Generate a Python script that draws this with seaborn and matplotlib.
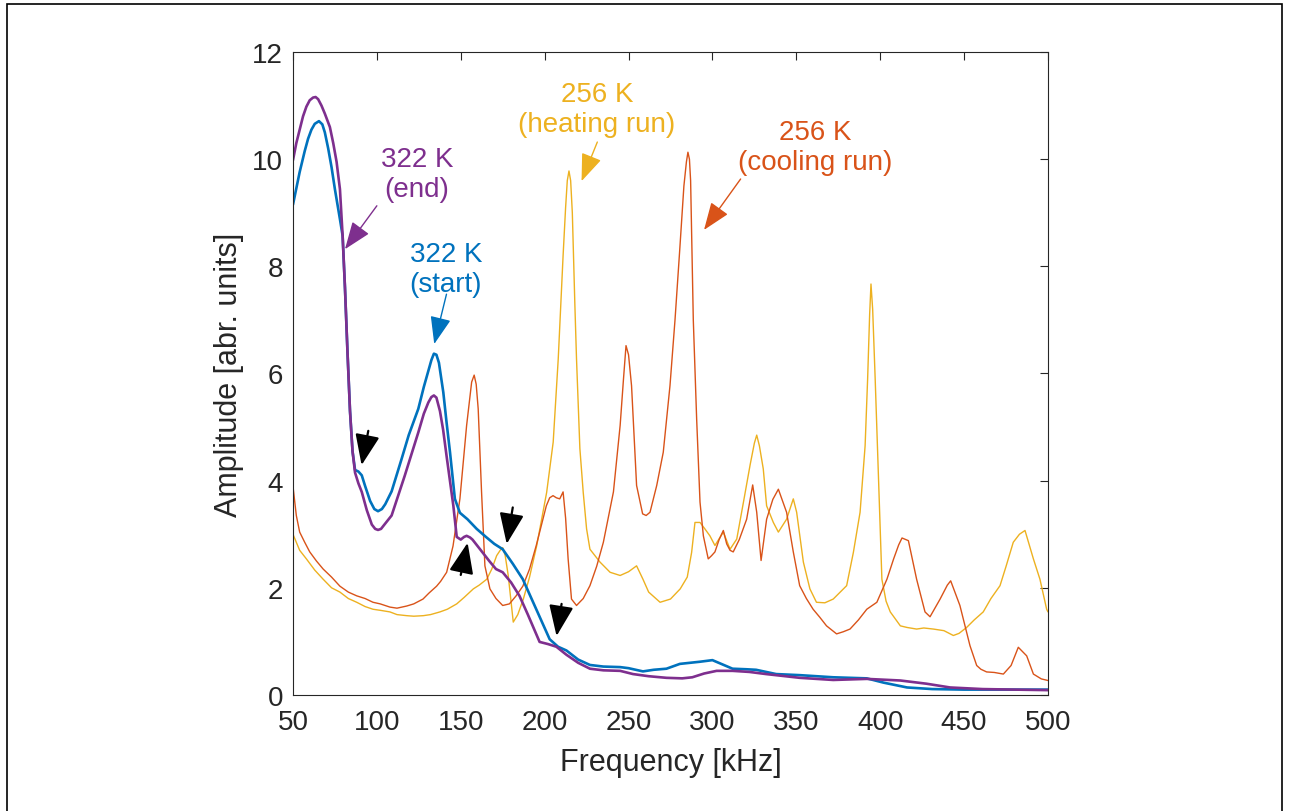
import matplotlib
matplotlib.use("Agg")
import matplotlib.pyplot as plt
import matplotlib.patches as mpatches
import seaborn as sns

# 322 K (start) - blue
f_start = [50, 54, 57, 59, 61, 63, 65.5, 67.5, 69, 71, 73, 75, 78, 79.6, 81, 82.5, 84, 85.5, 87,
           89, 91, 93, 96, 98.5, 100.7, 103, 105, 108.8, 114.7, 119, 124.7, 128, 130.7, 132.5,
           134, 135.5, 137, 139.6, 141.5, 143.6, 146.5, 149.5, 154, 159.5, 165, 170, 175, 181,
           187, 195, 203, 208, 213, 220, 227, 235, 245, 250, 258.6, 265, 272.6, 280.6, 292.5,
           300, 306, 312, 320, 326, 338, 352, 372, 392, 402, 416, 431, 450, 475, 500]
a_start = [9.15, 9.76, 10.15, 10.38, 10.55, 10.66, 10.71, 10.65, 10.5, 10.2, 9.85, 9.44, 8.88,
           8.57, 7.6, 6.4, 5.3, 4.55, 4.2, 4.17, 4.1, 3.9, 3.62, 3.47, 3.43, 3.47, 3.56, 3.8,
           4.4, 4.85, 5.34, 5.75, 6.05, 6.25, 6.37, 6.35, 6.2, 5.65, 5.1, 4.53, 3.66, 3.4, 3.28,
           3.1, 2.95, 2.82, 2.72, 2.45, 2.16, 1.6, 1.04, 0.9, 0.83, 0.66, 0.56, 0.53, 0.52, 0.5,
           0.44, 0.47, 0.49, 0.58, 0.62, 0.65, 0.57, 0.49, 0.48, 0.47, 0.39, 0.37, 0.33, 0.31,
           0.23, 0.14, 0.11, 0.1, 0.1, 0.1]

# 322 K (end) - purple
f_end = [50, 52, 54, 56, 58, 60, 62, 63.5, 65, 67, 69, 72, 74, 76, 78, 79.6, 81, 82.5, 84, 85.5,
         87, 89, 91, 94, 97, 99, 100.7, 102.5, 104, 108.8, 116.6, 124.7, 128, 130.7, 132.5,
         134, 135.5, 137.6, 139.5, 141.6, 145.6, 147.6, 150, 152, 153.5, 155.5, 157, 162, 167,
         171, 175, 180, 185, 190, 197, 202, 207, 213, 220, 227, 235, 245, 252.7, 262, 272.6,
         282, 288, 295, 302.5, 312, 322, 332, 352, 372, 392, 412, 427.6, 441.6, 461, 480, 500]
a_end = [9.98, 10.3, 10.55, 10.8, 10.98, 11.1, 11.15, 11.16, 11.12, 11.0, 10.85, 10.6, 10.3,
         9.95, 9.44, 8.57, 7.6, 6.4, 5.3, 4.55, 4.15, 3.95, 3.79, 3.45, 3.18, 3.1, 3.08, 3.1,
         3.16, 3.35, 4.09, 4.9, 5.25, 5.46, 5.56, 5.59, 5.55, 5.3, 4.95, 4.45, 3.53, 2.95, 2.9,
         2.95, 2.97, 2.94, 2.9, 2.7, 2.5, 2.35, 2.29, 2.1, 1.85, 1.5, 0.99, 0.95, 0.9, 0.75,
         0.6, 0.49, 0.46, 0.45, 0.39, 0.35, 0.32, 0.31, 0.33, 0.4, 0.45, 0.45, 0.43, 0.39, 0.32,
         0.28, 0.3, 0.27, 0.21, 0.14, 0.11, 0.1, 0.09]

# 256 K (cooling run) - orange
f_cool = [50, 52, 54, 57, 60, 64, 68, 73, 78, 83, 88, 93, 97.7, 102, 107.8, 112, 117.8, 122,
          127.5, 131, 135.6, 138, 141.6, 145.4, 149.5, 153.5, 156.5, 158, 159.2, 160.4, 162.4,
          164.4, 167.4, 171, 175, 179, 183, 187, 191, 195, 201, 203, 205, 207, 209, 211, 212.5,
          214, 216, 219, 223, 227, 231, 235, 241, 245, 247, 248.5, 250, 251.8, 254.8, 258.4,
          260.5, 262.8, 266.8, 270.7, 274.7, 277.7, 280.5, 283, 284.5, 285.4, 286.3, 287, 288.6,
          290.6, 292.6, 294.6, 297.5, 299.5, 301.5, 304, 306.5, 308.5, 310.5, 312.4, 316, 320.4,
          324, 326.4, 329, 332.3, 336, 339.3, 344.2, 348.2, 352, 356, 360, 364, 368, 374, 378,
          382, 387, 392, 398, 404, 408, 411, 413, 416.8, 421.7, 426.7, 429.7, 435.7, 440, 442,
          447.5, 453.5, 457.5, 460, 463.4, 468, 473.4, 478, 482.3, 487.3, 491.3, 496, 500]
a_cool = [3.9, 3.35, 3.04, 2.85, 2.67, 2.5, 2.35, 2.2, 2.03, 1.92, 1.85, 1.8, 1.73, 1.7, 1.64,
          1.62, 1.66, 1.7, 1.79, 1.9, 2.03, 2.12, 2.29, 2.78, 3.66, 5.03, 5.84, 5.97, 5.8, 5.34,
          3.79, 2.41, 1.98, 1.8, 1.67, 1.7, 1.85, 2.03, 2.35, 2.79, 3.53, 3.68, 3.72, 3.68,
          3.66, 3.79, 3.3, 2.54, 1.79, 1.67, 1.8, 2.04, 2.4, 2.85, 3.79, 5.03, 5.9, 6.52, 6.35,
          5.77, 3.91, 3.38, 3.35, 3.41, 3.91, 4.53, 5.77, 7.0, 8.3, 9.5, 9.95, 10.13, 10.0, 9.6,
          7.0, 5.15, 3.6, 2.97, 2.54, 2.6, 2.67, 2.9, 3.07, 2.82, 2.7, 2.67, 2.9, 3.28, 3.92,
          3.41, 2.51, 3.28, 3.65, 3.84, 3.41, 2.67, 2.04, 1.8, 1.6, 1.45, 1.29, 1.14, 1.18, 1.23,
          1.4, 1.6, 1.73, 2.16, 2.54, 2.8, 2.93, 2.88, 2.16, 1.55, 1.46, 1.79, 2.05, 2.13, 1.67,
          0.92, 0.55, 0.48, 0.43, 0.42, 0.39, 0.55, 0.89, 0.73, 0.39, 0.3, 0.27]

# 256 K (heating run) - yellow
f_heat = [50, 54, 58, 63, 68, 73, 78, 83, 88, 93, 97.7, 102, 107.8, 112, 117.8, 122, 127.7, 132,
          137.6, 142, 147.6, 152, 157.5, 161, 165.5, 168.5, 171.4, 173.5, 175, 176.5, 178.3,
          181.3, 184, 187.3, 191, 195.3, 201.2, 205.1, 208.1, 211, 212.5, 213.5, 214.5, 215.5,
          216.5, 218, 219, 221, 223, 225, 227, 233, 239, 245, 250, 254.8, 258.6, 262, 268.8,
          275, 280.8, 285, 287.6, 289.6, 292.6, 295.5, 298.5, 301.5, 306.5, 310.5, 314.5, 318.5,
          322.5, 325, 326.4, 328, 330.3, 332.3, 336.3, 339.3, 344.2, 348.2, 350.2, 354.2, 358.1,
          362, 367, 372, 380, 384, 388, 391, 392.5, 393.7, 394.5, 395.5, 397, 399, 401, 403.5,
          406, 412, 416, 421.7, 426, 431.7, 438, 443.6, 447, 451.5, 456, 461.4, 466, 471.4, 475,
          479.3, 483, 486.3, 491.3, 495.2, 499.2, 500]
a_heat = [3.0, 2.7, 2.54, 2.33, 2.16, 2.0, 1.92, 1.8, 1.73, 1.65, 1.6, 1.58, 1.55, 1.5, 1.48,
          1.47, 1.48, 1.5, 1.55, 1.6, 1.7, 1.82, 1.98, 2.05, 2.16, 2.35, 2.6, 2.7, 2.75, 2.6,
          2.23, 1.36, 1.5, 1.79, 2.2, 2.79, 3.78, 4.72, 6.27, 8.2, 9.1, 9.6, 9.78, 9.6, 9.0, 7.3,
          6.27, 4.6, 3.78, 3.1, 2.72, 2.48, 2.29, 2.23, 2.3, 2.41, 2.16, 1.92, 1.73, 1.79, 1.98,
          2.2, 2.66, 3.22, 3.22, 3.1, 2.97, 2.79, 3.04, 2.72, 2.91, 3.6, 4.3, 4.7, 4.85, 4.65,
          4.22, 3.53, 3.22, 3.04, 3.28, 3.66, 3.41, 2.48, 1.98, 1.73, 1.72, 1.79, 2.04, 2.66,
          3.41, 4.65, 5.9, 7.1, 7.67, 7.2, 5.9, 4.03, 2.16, 1.75, 1.55, 1.29, 1.26, 1.23, 1.25,
          1.23, 1.2, 1.11, 1.15, 1.26, 1.4, 1.55, 1.8, 2.04, 2.4, 2.85, 3.0, 3.07, 2.54, 2.16,
          1.6, 1.55]

x_ticks = [50, 100, 150, 200, 250, 300, 350, 400, 450, 500]
y_ticks = [0, 2, 4, 6, 8, 10, 12]

BLUE = "#0072BD"
ORANGE = "#D95319"
YELLOW = "#EDB120"
PURPLE = "#7E2F8E"
DARK = "#262626"

sns.set_style("white")
plt.rcParams['font.family'] = ['Liberation Sans', 'DejaVu Sans']

fig = plt.figure(figsize=(12.9, 8.12), dpi=100)
ax = fig.add_axes([0.2271, 0.1429, 0.5853, 0.7918])

line_kw = dict(ax=ax, sort=False, solid_joinstyle='round', solid_capstyle='round')
sns.lineplot(x=f_heat, y=a_heat, color=YELLOW, lw=1.0, **line_kw)
sns.lineplot(x=f_cool, y=a_cool, color=ORANGE, lw=1.0, **line_kw)
sns.lineplot(x=f_start, y=a_start, color=BLUE, lw=1.9, **line_kw)
sns.lineplot(x=f_end, y=a_end, color=PURPLE, lw=1.9, **line_kw)

ax.set_xlim(50, 500)
ax.set_ylim(0, 12)
ax.set_xticks(x_ticks)
ax.set_yticks(y_ticks)
ax.tick_params(direction='in', length=6, width=0.8, colors=DARK, labelsize=20,
               top=True, right=True)
ax.tick_params(axis='x', pad=10)
ax.tick_params(axis='y', pad=7)
for sp in ax.spines.values():
    sp.set_color(DARK)
    sp.set_linewidth(0.8)
ax.set_xlabel("Frequency [kHz]", fontsize=22, color=DARK, labelpad=9)
ax.set_ylabel("Amplitude [abr. units]", fontsize=22, color=DARK, labelpad=6)


def label(txt, xy, xytext, tpos, color, fs=20):
    ax.text(tpos[0], tpos[1], txt, color=color, fontsize=fs, ha='center', va='center',
            linespacing=1.2)
    ax.annotate('', xy=xy, xytext=xytext,
                arrowprops=dict(arrowstyle='-|>,head_length=0.95,head_width=0.36',
                                color=color, lw=1.0, mutation_scale=18,
                                shrinkA=0, shrinkB=0))


label("322 K\n(end)", (81, 8.32), (100, 9.13), (123.9, 9.72), PURPLE)
label("322 K\n(start)", (134.2, 6.55), (141.5, 7.48), (141.2, 7.95), BLUE)
label("256 K\n(heating run)", (222, 9.59), (231.4, 10.32), (231.2, 10.94), YELLOW)
label("256 K\n(cooling run)", (295, 8.68), (316.8, 9.63), (361.1, 10.23), ORANGE)

black_arrows = [((90.9, 4.29), (94.9, 4.93)),
                ((154.1, 2.84), (150.0, 2.24)),
                ((177.4, 2.82), (181.0, 3.50)),
                ((207.1, 1.10), (210.1, 1.70))]
for tip, tail in black_arrows:
    ax.annotate('', xy=tip, xytext=tail,
                arrowprops=dict(arrowstyle='-|>,head_length=1.05,head_width=0.42',
                                color='black', lw=1.6, mutation_scale=18,
                                shrinkA=0, shrinkB=0))

# outer frame
fig.add_artist(mpatches.Rectangle((7 / 1290, -0.02), 1275 / 1290, 1.02 - 5 / 812,
                                  transform=fig.transFigure, fill=False,
                                  edgecolor='black', lw=1.2))

fig.savefig("out.png", dpi=100)
